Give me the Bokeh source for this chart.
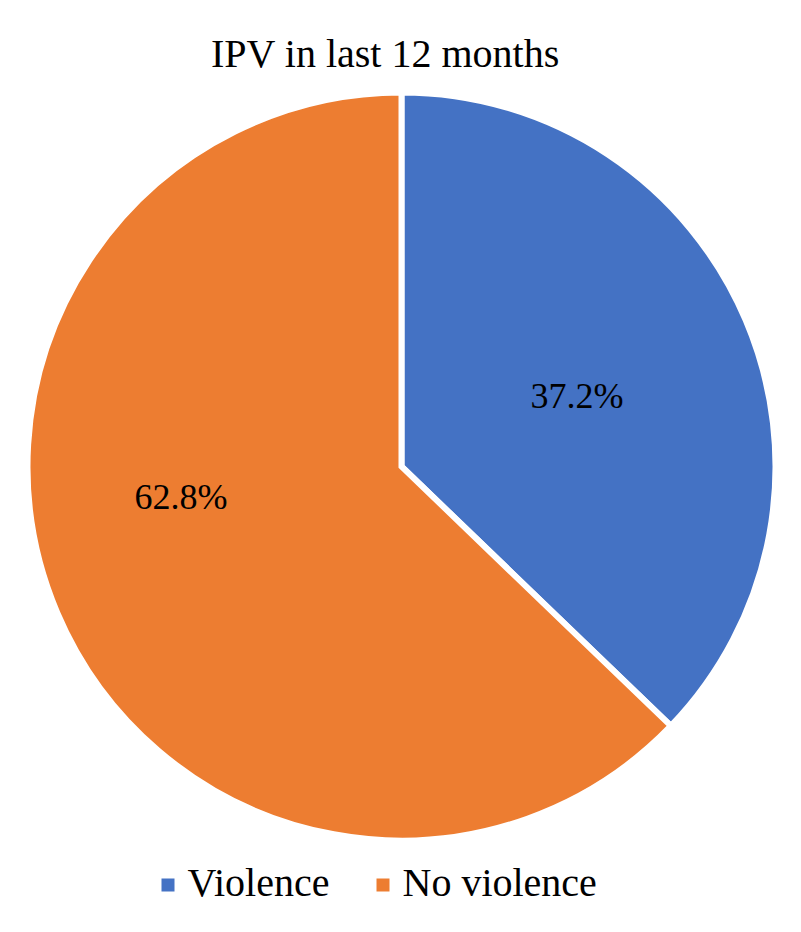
import math
from bokeh.plotting import figure
from bokeh.models import Range1d, ColumnDataSource
from bokeh.core.properties import value
from bokeh.embed import file_html
from bokeh.resources import INLINE

# ---- data ----
categories = ["Violence", "No violence"]
percentages = [37.2, 62.8]
colors = ["#4472C4", "#ED7D31"]
title_text = "IPV in last 12 months"

# ---- layout (pixels) ----
W, H = 785, 916
CX, CY = 401, H - 466
BORDER = 6
R = 371 + BORDER / 2
FONT = "Liberation Serif"

p = figure(width=W, height=H, output_backend="svg", toolbar_location=None,
           x_range=Range1d(0, W), y_range=Range1d(0, H), min_border=0)
p.axis.visible = False
p.grid.visible = False
p.outline_line_color = None
p.background_fill_color = "white"

# wedges, clockwise from 12 o'clock
total = sum(percentages)
starts, ends = [], []
a = math.pi / 2
for v in percentages:
    sweep = 2 * math.pi * v / total
    starts.append(a)
    ends.append(a - sweep)
    a -= sweep

src = ColumnDataSource(dict(x=[CX] * len(categories), y=[CY] * len(categories),
                            start=starts, end=ends, color=colors, cat=categories))
p.wedge(x="x", y="y", radius=R, start_angle="start", end_angle="end",
        direction="clock", fill_color="color", line_color="white",
        line_width=BORDER, line_join="miter", source=src)

# data labels (Excel best-fit placement)
label_place = [(0.51, math.radians(22)), (0.60, math.radians(188))]
lx = [CX + f * 371 * math.cos(t) for f, t in label_place]
ly = [CY + f * 371 * math.sin(t) for f, t in label_place]
p.text(x=lx, y=ly, text=[f"{v:.1f}%" for v in percentages],
       text_font=value(FONT), text_font_size="36px", text_color="black",
       text_align="center", text_baseline="middle")

# title
p.text(x=[385], y=[H - 53], text=[title_text], text_font=value(FONT),
       text_font_size="40px", text_color="black", text_align="center",
       text_baseline="middle")

# legend
leg_sq_x = [167.5, 382.5]
p.rect(x=leg_sq_x, y=[H - 884.5] * 2, width=13, height=13,
       fill_color=colors, line_color=None)
p.text(x=[x + 19.5 for x in leg_sq_x], y=[H - 882] * 2, text=categories,
       text_font=value(FONT), text_font_size="40px", text_color="black",
       text_align="left", text_baseline="middle")

open("out.html", "w").write(file_html(p, INLINE))
